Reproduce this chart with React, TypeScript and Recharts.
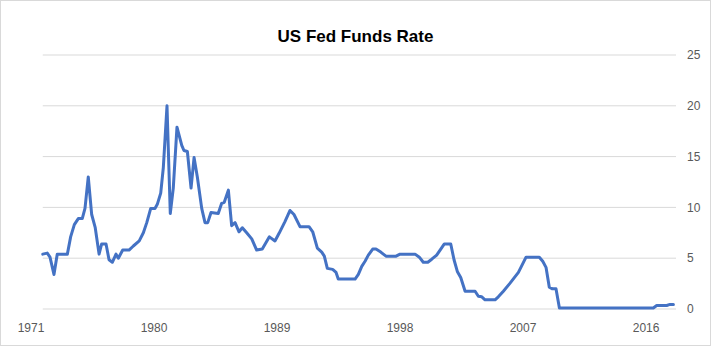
import React from "react";
import { LineChart, Line, XAxis, YAxis, ReferenceLine } from "recharts";

const years: number[] = [
  1971.86, 1972.19, 1972.39, 1972.68, 1972.92, 1973.66, 1973.9, 1974.17, 1974.46, 1974.75,
  1974.95, 1975.19, 1975.44, 1975.7, 1975.98, 1976.17, 1976.49, 1976.71, 1976.95, 1977.22,
  1977.39, 1977.71, 1978.17, 1978.49, 1978.92, 1979.22, 1979.47, 1979.76, 1980.07, 1980.24,
  1980.49, 1980.68, 1980.95, 1981.19, 1981.41, 1981.68, 1982.03, 1982.19, 1982.44, 1982.71,
  1982.93, 1983.17, 1983.49, 1983.73, 1983.93, 1984.17, 1984.7, 1984.95, 1985.14, 1985.44,
  1985.68, 1985.93, 1986.22, 1986.46, 1986.78, 1987.15, 1987.51, 1987.92, 1988.44, 1988.85,
  1989.17, 1989.58, 1989.95, 1990.24, 1990.68, 1991.34, 1991.61, 1991.95, 1992.27, 1992.46,
  1992.68, 1993.07, 1993.32, 1993.48, 1994.71, 1994.95, 1995.2, 1995.44, 1995.68, 1996.0,
  1996.24, 1996.59, 1996.97, 1997.71, 1998.0, 1999.1, 1999.41, 1999.7, 2000.03, 2000.32,
  2000.68, 2000.98, 2001.24, 2001.71, 2001.95, 2002.19, 2002.44, 2002.76, 2003.49, 2003.73,
  2003.98, 2004.22, 2004.95, 2005.19, 2005.56, 2006.05, 2006.66, 2007.22, 2008.19, 2008.44,
  2008.68, 2008.92, 2009.12, 2009.41, 2009.66, 2016.53, 2016.78, 2017.51, 2017.75, 2018.0,
];

const rates: number[] = [
  5.4, 5.5, 5.1, 3.4, 5.4, 5.4, 7.1, 8.3, 8.9, 8.9,
  9.9, 13.0, 9.3, 8.0, 5.4, 6.4, 6.4, 4.85, 4.6, 5.4,
  5.0, 5.8, 5.8, 6.2, 6.7, 7.5, 8.5, 9.9, 9.9, 10.3,
  11.4, 13.9, 20.0, 9.4, 11.9, 17.9, 16.1, 15.6, 15.5, 11.9,
  14.9, 13.0, 9.9, 8.5, 8.5, 9.5, 9.4, 10.4, 10.5, 11.7,
  8.2, 8.5, 7.6, 8.0, 7.5, 6.9, 5.8, 5.9, 7.1, 6.7,
  7.5, 8.6, 9.7, 9.3, 8.1, 8.1, 7.6, 6.0, 5.6, 5.2,
  4.0, 3.9, 3.6, 2.95, 2.95, 3.4, 4.2, 4.7, 5.3, 5.9,
  5.9, 5.6, 5.2, 5.2, 5.4, 5.4, 5.1, 4.6, 4.6, 4.9,
  5.3, 5.9, 6.4, 6.4, 4.85, 3.7, 3.1, 1.75, 1.75, 1.25,
  1.2, 0.9, 0.9, 1.2, 1.75, 2.55, 3.6, 5.1, 5.1, 4.7,
  4.1, 2.15, 2.0, 2.0, 0.1, 0.1, 0.35, 0.35, 0.45, 0.45,
];

const xTicks: number[] = [1971, 1980, 1989, 1998, 2007, 2016];
const yTicks: number[] = [0, 5, 10, 15, 20, 25];
const title = "US Fed Funds Rate";

const data = years.map((y, i) => ({ year: y, rate: rates[i] }));

const X_MIN = 1971;
const X_MAX = 2018.19;
const GRID_START = years[0];

export default function App() {
  const font = "'Liberation Sans', Arial, sans-serif";
  return (
    <div
      style={{
        position: "absolute",
        left: 0,
        top: 0,
        width: 711,
        height: 346,
        boxSizing: "border-box",
        border: "1px solid #d9d9d9",
        background: "#fff",
        fontFamily: font,
      }}
    >
      <div
        style={{
          position: "absolute",
          left: 0,
          top: 26,
          width: "100%",
          textAlign: "center",
          fontSize: 17,
          lineHeight: "20px",
          fontWeight: "bold",
          color: "#000",
        }}
      >
        {title}
      </div>
      <LineChart
        width={709}
        height={344}
        data={data}
        margin={{ top: 54, right: 0, left: 30, bottom: 5 }}
      >
        {yTicks.map((v) => (
          <ReferenceLine
            key={v}
            segment={[
              { x: GRID_START, y: v },
              { x: X_MAX, y: v },
            ]}
            stroke="#d9d9d9"
            strokeWidth={1}
          />
        ))}
        <XAxis
          dataKey="year"
          type="number"
          domain={[X_MIN, X_MAX]}
          ticks={xTicks}
          interval={0}
          allowDataOverflow
          axisLine={false}
          tickLine={false}
          tickSize={0}
          tickMargin={14}
          height={31}
          tick={{ fill: "#595959", fontSize: 12, fontFamily: font }}
        />
        <YAxis
          orientation="right"
          type="number"
          domain={[0, 25]}
          ticks={yTicks}
          interval={0}
          axisLine={false}
          tickLine={false}
          tickSize={0}
          tickMargin={11}
          width={34}
          tick={{ fill: "#595959", fontSize: 12, fontFamily: font, textAnchor: "start" }}
        />
        <Line
          type="linear"
          dataKey="rate"
          stroke="#4472C4"
          strokeWidth={3}
          dot={false}
          isAnimationActive={false}
          strokeLinejoin="round"
          strokeLinecap="round"
        />
      </LineChart>
    </div>
  );
}
